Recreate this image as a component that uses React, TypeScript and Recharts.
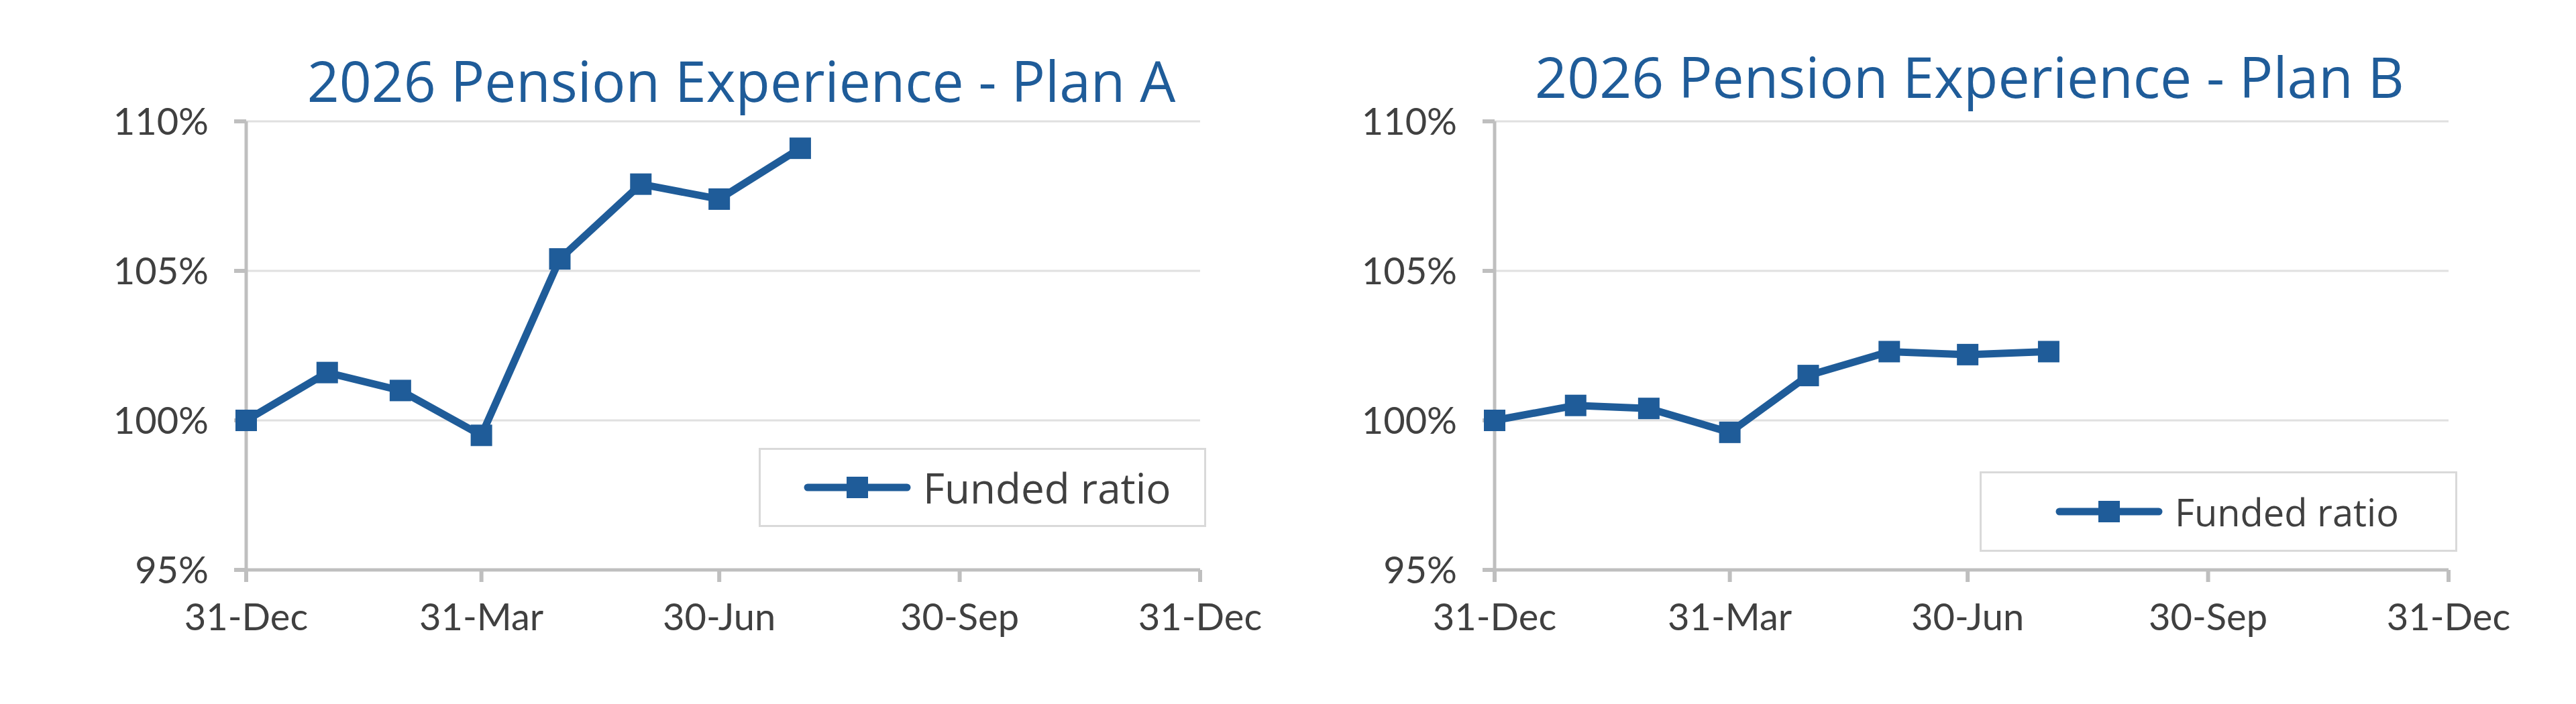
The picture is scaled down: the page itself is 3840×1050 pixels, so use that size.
import { LineChart, Line, XAxis, YAxis, CartesianGrid, Legend } from "recharts";

// Month-end valuation dates (days after 31-Dec)
const monthEnds = ["31-Dec", "31-Jan", "28-Feb", "31-Mar", "30-Apr", "31-May", "30-Jun", "31-Jul"];
const dayOfYear = [0, 31, 59, 90, 120, 151, 181, 212];

// Funded ratio, %
const planA = [100.0, 101.6, 101.0, 99.5, 105.4, 107.9, 107.4, 109.1];
const planB = [100.0, 100.5, 100.4, 99.6, 101.5, 102.3, 102.2, 102.3];

const quarterDays = [0, 90, 181, 273, 365];
const quarterLabels = ["31-Dec", "31-Mar", "30-Jun", "30-Sep", "31-Dec"];
const yTicks = [95, 100, 105, 110];
const seriesName = "Funded ratio";

const BLUE = "#1F5C99";
const TEXT = "#404040";
const AXIS = "#BFBFBF";
const GRID = "#E0E0E0";
const TICK_FONT = "Lato, 'Open Sans', sans-serif";
const TITLE_FONT = "'Open Sans', 'Noto Sans', sans-serif";

interface LegendBox {
  left: number;
  top: number;
  width: number;
  height: number;
  lineLeft: number;
  fontSize: number;
}

interface PensionChartProps {
  title: string;
  values: number[];
  left: number;
  plotLeft: number;
  marginRight: number;
  titleCenter: number;
  titleTop: number;
  legend: LegendBox;
}

function squareDot(props: any): JSX.Element {
  const { cx, cy, index } = props;
  return <rect key={`dot-${index}`} x={cx - 16} y={cy - 16} width={32} height={32} fill={BLUE} />;
}

function PensionChart({
  title,
  values,
  left,
  plotLeft,
  marginRight,
  titleCenter,
  titleTop,
  legend,
}: PensionChartProps): JSX.Element {
  const rows = dayOfYear.map((d, i) => ({ day: d, date: monthEnds[i], ratio: values[i] }));

  const renderLegend = (p: any) => (
    <div
      style={{
        boxSizing: "border-box",
        width: legend.width,
        height: legend.height,
        border: `3px solid #D9D9D9`,
        background: "#fff",
        display: "flex",
        alignItems: "center",
        paddingLeft: legend.lineLeft,
      }}
    >
      {(p.payload || []).map((entry: any) => (
        <div key={entry.value} style={{ display: "flex", alignItems: "center" }}>
          <svg width={160} height={40}>
            <line x1={6} y1={20} x2={154} y2={20} stroke={entry.color} strokeWidth={11} strokeLinecap="round" />
            <rect x={64} y={4} width={32} height={32} fill={entry.color} />
          </svg>
          <span
            style={{
              marginLeft: 18,
              fontFamily: TITLE_FONT,
              fontSize: legend.fontSize,
              color: TEXT,
              lineHeight: 1,
            }}
          >
            {entry.value}
          </span>
        </div>
      ))}
    </div>
  );

  return (
    <div style={{ position: "absolute", left, top: 0, width: 1920, height: 1050 }}>
      <div
        style={{
          position: "absolute",
          left: titleCenter - 900,
          width: 1800,
          top: titleTop,
          textAlign: "center",
          fontFamily: TITLE_FONT,
          fontSize: 84,
          lineHeight: "84px",
          color: BLUE,
          whiteSpace: "nowrap",
        }}
      >
        {title}
      </div>
      <LineChart
        width={1920}
        height={1050}
        data={rows}
        margin={{ top: 181, right: marginRight, bottom: 100, left: 0 }}
      >
        <CartesianGrid horizontal vertical={false} stroke={GRID} strokeWidth={3} />
        <XAxis
          dataKey="day"
          type="number"
          domain={[0, 365]}
          ticks={quarterDays}
          tickFormatter={(v: number) => quarterLabels[quarterDays.indexOf(v)]}
          interval={0}
          height={100}
          axisLine={{ stroke: AXIS, strokeWidth: 5 }}
          tickLine={{ stroke: AXIS, strokeWidth: 6 }}
          tickSize={18}
          tickMargin={32}
          tick={{ fill: TEXT, fontSize: 56, fontFamily: TICK_FONT }}
        />
        <YAxis
          type="number"
          domain={[95, 110]}
          ticks={yTicks}
          tickFormatter={(v: number) => `${v}%`}
          interval={0}
          width={plotLeft}
          axisLine={{ stroke: AXIS, strokeWidth: 5 }}
          tickLine={{ stroke: AXIS, strokeWidth: 6 }}
          tickSize={18}
          tickMargin={38}
          tick={{ fill: TEXT, fontSize: 56, fontFamily: TICK_FONT }}
        />
        <Legend
          layout="horizontal"
          verticalAlign="middle"
          align="center"
          content={renderLegend}
          wrapperStyle={{ left: legend.left, top: legend.top, width: legend.width, height: legend.height }}
        />
        <Line
          type="linear"
          dataKey="ratio"
          name={seriesName}
          stroke={BLUE}
          strokeWidth={11}
          dot={squareDot}
          activeDot={false}
          isAnimationActive={false}
        />
      </LineChart>
    </div>
  );
}

export default function App(): JSX.Element {
  return (
    <div
      style={{
        position: "absolute",
        left: 0,
        top: 0,
        width: 3840,
        height: 1050,
        background: "#fff",
        overflow: "hidden",
      }}
    >
      <PensionChart
        title="2026 Pension Experience - Plan A"
        values={planA}
        left={0}
        plotLeft={367}
        marginRight={131}
        titleCenter={1105}
        titleTop={78}
        legend={{ left: 1131, top: 668, width: 667, height: 118, lineLeft: 64, fontSize: 62 }}
      />
      <PensionChart
        title="2026 Pension Experience - Plan B"
        values={planB}
        left={1920}
        plotLeft={308}
        marginRight={190}
        titleCenter={1016}
        titleTop={72}
        legend={{ left: 1031, top: 703, width: 712, height: 120, lineLeft: 110, fontSize: 56 }}
      />
    </div>
  );
}
